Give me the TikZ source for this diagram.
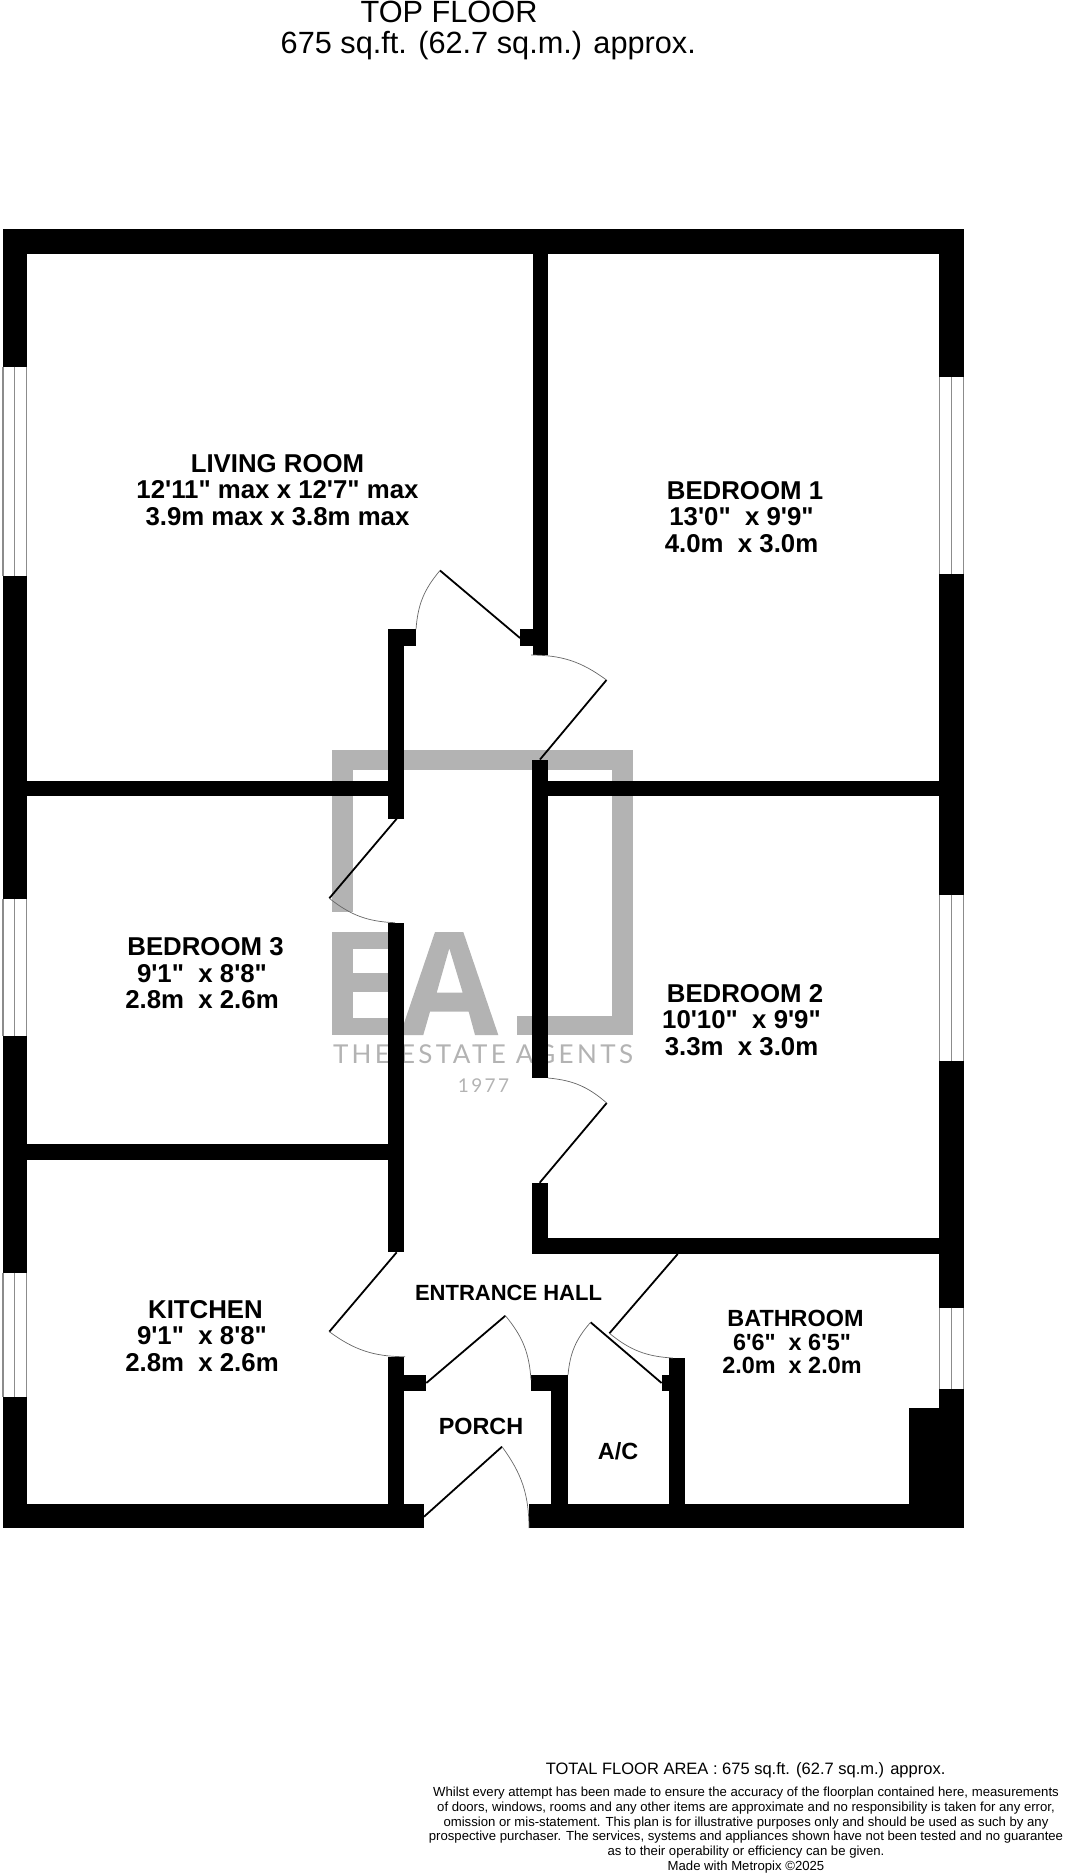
\documentclass[tikz,border=0pt]{standalone}
\usepackage{fontspec}
\newfontfamily\planfont{Liberation Sans}
\newfontfamily\logofont[LetterSpace=13]{Lato}
\newcommand{\pad}{\hbox to 7pt{}}
\definecolor{logogrey}{HTML}{B3B3B3}
\definecolor{panegrey}{HTML}{8C8C8C}
\tikzset{
  wall/.style={fill=black},
  logopart/.style={fill=logogrey},
  doorleaf/.style={draw=black,line width=1.8pt},
  doorswing/.style={draw=black!60,line width=0.7pt},
  pane/.style={draw=panegrey,line width=1.2pt},
  roomtext/.style={font=\planfont\bfseries\fontsize{25.8}{26.4}\selectfont,align=center,inner sep=0pt},
  smallroom/.style={font=\planfont\bfseries\fontsize{23.4}{23.6}\selectfont,align=center,inner sep=0pt},
  headtext/.style={font=\planfont\fontsize{30.7}{32}\selectfont,anchor=base,inner sep=0pt},
  noticetext/.style={font=\planfont\fontsize{13.15}{14.67}\selectfont,align=center,inner sep=0pt,anchor=base}
}
\begin{document}
\begin{tikzpicture}[x=1pt,y=-1pt]
  \useasboundingbox (0,0) rectangle (1066,1873);

  % logo underneath the walls
  \foreach \xa/\ya/\xb/\yb in {331.7/750/633.3/770, 331.7/750/353.3/911.7, 612/750/633.3/1035,
      516.7/1016/633.3/1035, 331.7/932/353.3/1035, 353.3/932/395/949, 353.3/973/395/991.7,
      353.3/1017.7/395/1035}
    \fill[logopart] (\xa,\ya) rectangle (\xb,\yb);
  \fill[logopart,even odd rule] (435,932) -- (463.3,932) -- (498.3,1035) -- (475,1035)
      -- (468.7,1011.7) -- (430,1011.7) -- (423.3,1035) -- (400,1035) -- cycle
      (449.3,948.3) -- (462.7,992.7) -- (436.7,992.7) -- cycle;
  \node[text=logogrey,font=\logofont\fontsize{26}{26}\selectfont,inner sep=0pt,anchor=base] (logoname) at (483,1063) {THE ESTATE AGENTS};
  \node[text=logogrey,font=\logofont\fontsize{19}{19}\selectfont,inner sep=0pt,anchor=base] (logoyear) at (483.5,1092) {1977};

  % walls
  \foreach \xa/\ya/\xb/\yb in {3/229/964/253.6, 3/229/27/1528.3, 939/229/964/1528.3,
      3/1503.5/424/1528.3, 529/1503.5/964/1528.3, 532.5/240/548/655, 520/629/533/646,
      388/629/404/819, 403/629/416/646, 388/923/404/1252, 388/1357/404/1528,
      27/780.5/388/796, 532/780.5/939/796, 532/760/548/1078, 532/1183/548/1254,
      27/1144/388/1160, 532/1238/939/1254, 404/1375/426.3/1391, 531/1375/568/1391,
      551/1375/568/1504, 661.6/1375/670/1391, 669/1358/685/1504, 909/1408/940/1504}
    \fill[wall] (\xa,\ya) rectangle (\xb,\yb);

  % windows
  \foreach \ya/\yb in {366.5/576, 899/1036, 1272.7/1397.3} {
    \fill[white] (3,\ya) rectangle (27,\yb);
    \draw[pane] (3,\ya) -- (3,\yb) (14.7,\ya) -- (14.7,\yb) (26.7,\ya) -- (26.7,\yb);
  }
  \foreach \ya/\yb in {377/573.5, 894.6/1061, 1307.7/1389} {
    \fill[white] (939,\ya) rectangle (964,\yb);
    \draw[pane] (939.3,\ya) -- (939.3,\yb) (951.5,\ya) -- (951.5,\yb) (963.7,\ya) -- (963.7,\yb);
  }

  % doors: hinge, tip, jamb, bend
  \foreach \hx/\hy/\tx/\ty/\jx/\jy/\bend in {520/638/440/570.5/416/629.4/right,
      540/759.5/606.5/680/531/655/right, 396.7/818.7/329.3/898.3/395/922.7/right,
      539.7/1182.7/606.7/1103/548/1078/right, 396.7/1252.3/329.3/1331.7/405/1356.7/right,
      426.3/1383/505.4/1315.7/531/1380/left, 424/1516.7/502/1446.7/529/1528/left,
      661.6/1383/590.6/1322.3/568/1375/right, 677.7/1254/609.4/1333.3/672.8/1358/right} {
    \coordinate (hinge) at (\hx,\hy);
    \coordinate (tip) at (\tx,\ty);
    \coordinate (jamb) at (\jx,\jy);
    \draw[doorleaf] (hinge) -- (tip);
    \draw[doorswing] (tip) to[bend \bend=18] (jamb);
  }

  % rooms
  \node[roomtext] (livingroom) at (277.5,490) {LIVING ROOM\\12'11" max x 12'7" max\\3.9m max x 3.8m max};
  \node[roomtext] (bedroomone) at (745,517) {BEDROOM 1\\13'0"\ \ x 9'9"\pad\\4.0m\ \ x 3.0m\pad};
  \node[roomtext] (bedroomtwo) at (745,1020) {BEDROOM 2\\10'10"\ \ x 9'9"\pad\\3.3m\ \ x 3.0m\pad};
  \node[roomtext] (bedroomthree) at (205.5,973.5) {BEDROOM 3\\9'1"\ \ x 8'8"\pad\\2.8m\ \ x 2.6m\pad};
  \node[roomtext] (kitchen) at (205.5,1336) {KITCHEN\\9'1"\ \ x 8'8"\pad\\2.8m\ \ x 2.6m\pad};
  \node[smallroom] (bathroom) at (795.5,1342) {BATHROOM\\6'6"\ \ x 6'5"\pad\\2.0m\ \ x 2.0m\pad};
  \node[smallroom,font=\planfont\bfseries\fontsize{22}{23.6}\selectfont] (hall) at (508.5,1293.3) {ENTRANCE HALL};
  \node[smallroom] (porch) at (481,1426.7) {PORCH};
  \node[smallroom] (cupboard) at (618,1451.7) {A/C};

  % heading and notice
  \node[headtext] (floorname) at (449,22.7) {TOP FLOOR};
  \node[headtext] (floorarea) at (488.3,53.3) {675 sq.ft. (62.7 sq.m.) approx.};
  \node[noticetext,font=\planfont\fontsize{16.5}{18}\selectfont] (totalarea) at (745.6,1774.7) {TOTAL FLOOR AREA : 675 sq.ft. (62.7 sq.m.) approx.};
  \node[noticetext] (notice) at (746,1870) {Whilst every attempt has been made to ensure the accuracy of the floorplan contained here, measurements\\of doors, windows, rooms and any other items are approximate and no responsibility is taken for any error,\\omission or mis-statement. This plan is for illustrative purposes only and should be used as such by any\\prospective purchaser. The services, systems and appliances shown have not been tested and no guarantee\\as to their operability or efficiency can be given.\\Made with Metropix \textcopyright 2025};
\end{tikzpicture}
\end{document}
